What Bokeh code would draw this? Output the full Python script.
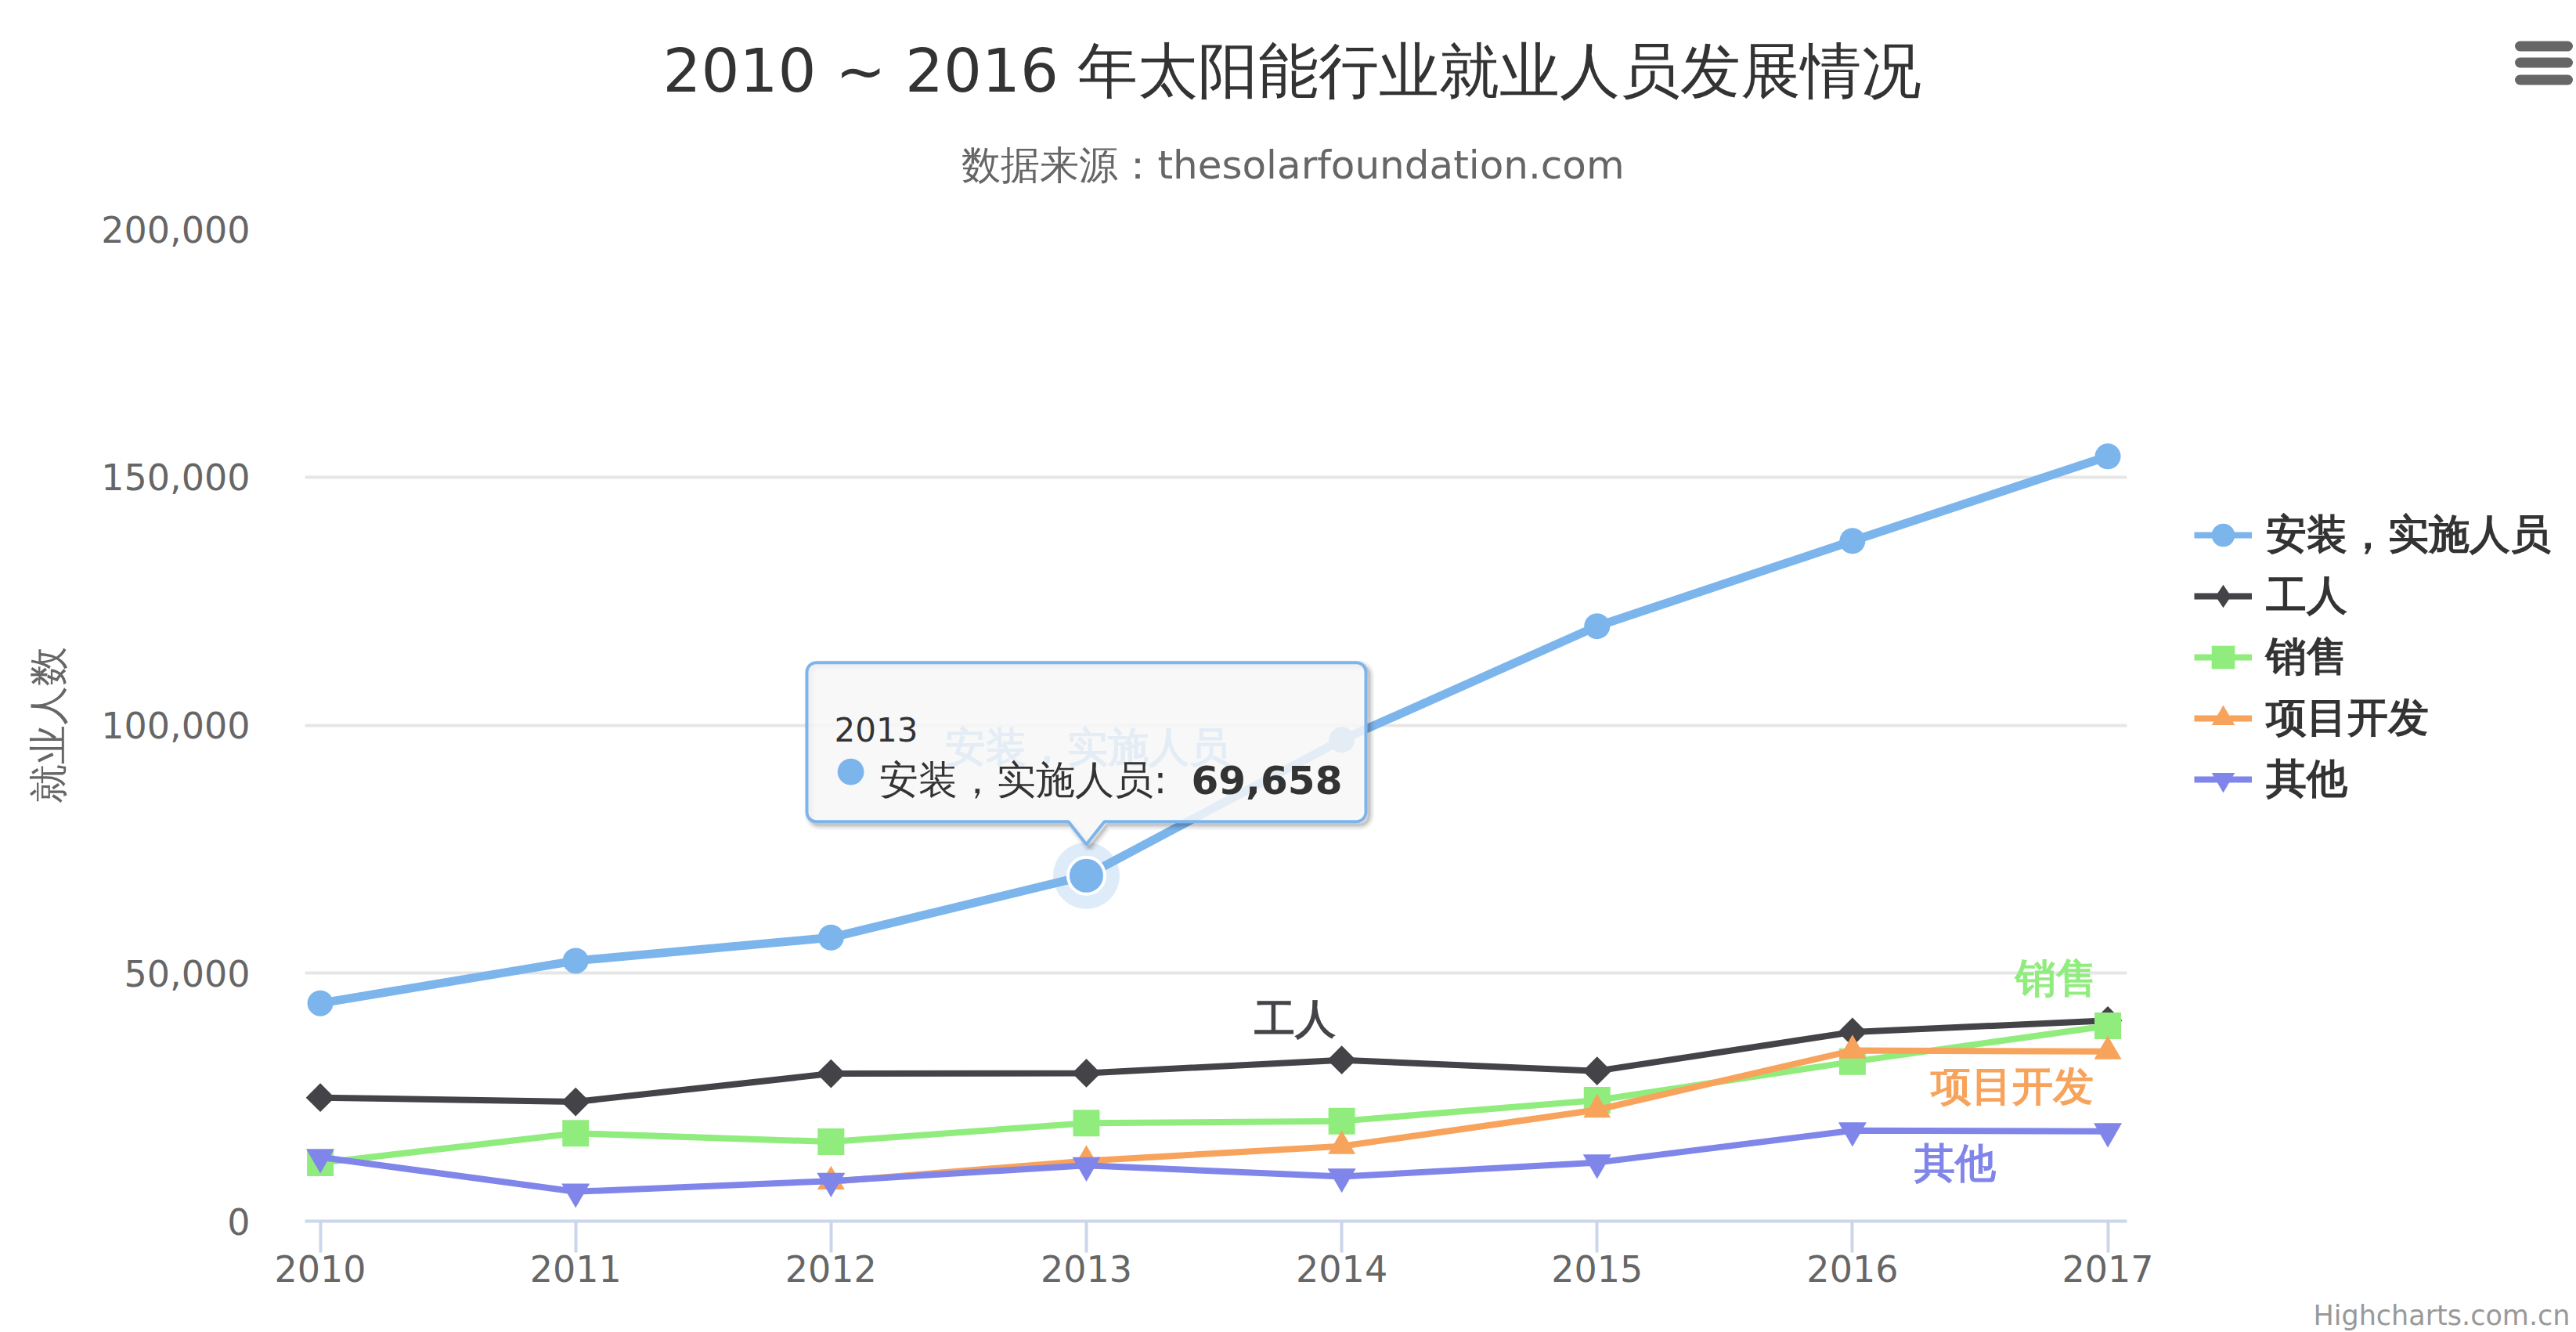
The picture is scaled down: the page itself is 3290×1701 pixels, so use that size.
import numpy as np
from bokeh.plotting import figure
from bokeh.layouts import column
from bokeh.models import (Range1d, FixedTicker, NumeralTickFormatter, Legend, LegendItem,
                          Label, PolyAnnotation, ColumnDataSource)
from bokeh.core.properties import value
from bokeh.embed import file_html
from bokeh.resources import INLINE

# ---------------- data ----------------
years = [2010, 2011, 2012, 2013, 2014, 2015, 2016, 2017]
installation = [43934, 52503, 57177, 69658, 97031, 119931, 137133, 154175]
manufacturing = [24916, 24064, 29742, 29851, 32490, 30282, 38121, 40434]
sales = [11744, 17722, 16005, 19771, 20185, 24377, 32147, 39387]
project_dev = [None, None, 7988, 12169, 15112, 22452, 34400, 34227]
other = [12908, 5948, 8105, 11248, 8989, 11816, 18274, 18111]
series_names = ["安装，实施人员", "工人", "销售", "项目开发", "其他"]
y_ticks = [0, 50000, 100000, 150000, 200000]
title_text = "2010 ~ 2016 年太阳能行业就业人员发展情况"
subtitle_text = "数据来源：thesolarfoundation.com"
y_title = "就业人数"
credit_text = "Highcharts.com.cn"
tooltip_year = years[3]
tooltip_value = installation[3]

# ---------------- styles ----------------
colors = ["#7cb5ec", "#434348", "#90ed7d", "#f7a35c", "#8085e9"]
markers = ["circle", "square", "square", "triangle", "inverted_triangle"]
legend_markers = ["circle", "diamond", "square", "triangle", "inverted_triangle"]
marker_angles = [0, np.pi / 4, 0, 0, 0]
marker_sizes = [33, 26, 34, 35, 36]
FONT = "DejaVu Sans"
W, H = 3290, 1701
HEAD_H = 250
FOOT_H = 44

# frame geometry (full-canvas px)
FL, FR, FT, FB = 389, 2716, 292, 1559
X0, X1 = 2009.94, 2017.075
Y0, Y1 = 0, 200000


def no_align(fig):
    try:
        fig.frame_align = False
    except Exception:
        pass


# ---------------- header (title, subtitle, menu icon) ----------------
head = figure(width=W, height=HEAD_H, x_range=Range1d(0, W), y_range=Range1d(HEAD_H, 0),
              output_backend="svg", toolbar_location=None, min_border=0,
              x_axis_location=None, y_axis_location=None)
no_align(head)
head.outline_line_color = None
head.grid.visible = False
head.add_layout(Label(x=1650, y=90, text=title_text, text_font=FONT, text_font_size="77px",
                      text_color="#333333", text_align="center", text_baseline="alphabetic"))
head.add_layout(Label(x=1651, y=210, text=subtitle_text, text_font=FONT, text_font_size="50px",
                      text_color="#666666", text_align="center", text_baseline="alphabetic"))
head.segment(x0=[3218] * 3, x1=[3279] * 3, y0=[58.5, 79.5, 101.5], y1=[58.5, 79.5, 101.5],
             line_color="#666666", line_width=13, line_cap="round")

# ---------------- main plot ----------------
p = figure(frame_width=FR - FL, frame_height=FB - FT,
           x_range=Range1d(X0, X1), y_range=Range1d(Y0, Y1),
           output_backend="svg", toolbar_location=None,
           min_border_left=FL, min_border_right=W - FR,
           min_border_top=FT - HEAD_H, min_border_bottom=H - FOOT_H - FB)
no_align(p)
p.outline_line_color = None
p.background_fill_color = "white"
p.border_fill_color = "white"

p.xgrid.visible = False
p.ygrid.grid_line_color = "#e6e6e6"
p.ygrid.grid_line_width = 4

p.yaxis.ticker = FixedTicker(ticks=y_ticks)
p.yaxis.formatter = NumeralTickFormatter(format="0,0")
p.yaxis.axis_line_color = None
p.yaxis.major_tick_line_color = None
p.yaxis.minor_tick_line_color = None
p.yaxis.major_tick_out = 0
p.yaxis.major_tick_in = 0
p.yaxis.major_label_standoff = 70
p.yaxis.major_label_text_font = FONT
p.yaxis.major_label_text_font_size = "46px"
p.yaxis.major_label_text_color = "#666666"
p.yaxis.axis_label = y_title
p.yaxis.axis_label_text_font = FONT
p.yaxis.axis_label_text_font_size = "50px"
p.yaxis.axis_label_text_font_style = "normal"
p.yaxis.axis_label_text_color = "#666666"
p.yaxis.axis_label_standoff = 35

p.xaxis.ticker = FixedTicker(ticks=years)
p.xaxis.axis_line_color = "#ccd6eb"
p.xaxis.axis_line_width = 4
p.xaxis.major_tick_line_color = "#ccd6eb"
p.xaxis.major_tick_line_width = 4
p.xaxis.major_tick_out = 40
p.xaxis.major_tick_in = 0
p.xaxis.minor_tick_line_color = None
p.xaxis.major_label_standoff = 3
p.xaxis.major_label_text_font = FONT
p.xaxis.major_label_text_font_size = "46px"
p.xaxis.major_label_text_color = "#666666"

# series
all_series = [installation, manufacturing, sales, project_dev, other]
items = []
for name, vals, col, mk, lmk, ang, ms in zip(series_names, all_series, colors, markers,
                                             legend_markers, marker_angles, marker_sizes):
    yv = [np.nan if v is None else v for v in vals]
    src = ColumnDataSource(dict(x=years, y=yv))
    lr = p.line("x", "y", source=src, line_color=col, line_width=8)
    if col == colors[0]:
        p.line("x", "y", source=src, line_color=col, line_width=11)
    sr = p.scatter("x", "y", source=src, marker=mk, angle=ang, size=ms,
                   fill_color=col, line_color=None)
    if lmk != mk:
        sr = p.scatter(x=[np.nan], y=[np.nan], marker=lmk, size=ms,
                       fill_color=col, line_color=None)
    items.append(LegendItem(label=name, renderers=[lr, sr]))

# hovered point (halo + enlarged marker)
hover_src = ColumnDataSource(dict(x=[tooltip_year], y=[tooltip_value]))
p.scatter("x", "y", source=hover_src, marker="circle", size=85,
          fill_color=colors[0], fill_alpha=0.25, line_color=None)
p.scatter("x", "y", source=hover_src, marker="circle", size=47,
          fill_color=colors[0], line_color="white", line_width=4)

# series labels (anchored on data points, offsets in px)
lab_src = ColumnDataSource(dict(
    x=[years[3], years[4], years[7], years[7], years[7]],
    y=[installation[3], manufacturing[4], sales[7], project_dev[7], other[7]],
    text=series_names, color=colors,
    dx=[2, -60, -66, -122, -195], dy=[-164, -53, -61, 44, 40]))
p.text("x", "y", text="text", source=lab_src, x_offset="dx", y_offset="dy",
       text_color="color", text_font=value(FONT), text_font_style="bold",
       text_font_size=value("52px"), text_align="center", text_baseline="middle")

# legend
legend = Legend(items=items, location=(86, 525), orientation="vertical",
                padding=0, margin=0, spacing=0, glyph_width=74, glyph_height=78,
                label_height=78, label_standoff=18,
                label_text_font=FONT, label_text_font_size="52px",
                label_text_font_style="bold", label_text_color="#333333",
                border_line_color=None, background_fill_alpha=0)
p.add_layout(legend, "right")


# tooltip (screen units relative to the frame's bottom-left corner)
def sx(cx):
    return cx - FL


def sy(cy):
    return FB - cy


ppx = FL + (tooltip_year - X0) / (X1 - X0) * (FR - FL)
ppy = FB - (tooltip_value - Y0) / (Y1 - Y0) * (FB - FT)


def tooltip_shape(left, right, top, bottom, r, tx, tw, tip):
    pts = []
    corners = [((left + r, top + r), 180, 270), ((right - r, top + r), 270, 360),
               ((right - r, bottom - r), 0, 90)]
    for (cx, cy), a0, a1 in corners:
        for a in np.linspace(np.radians(a0), np.radians(a1), 7):
            pts.append((cx + r * np.cos(a), cy + r * np.sin(a)))
    pts += [(tx + tw / 2, bottom), (tx, tip), (tx - tw / 2, bottom)]
    for a in np.linspace(np.radians(90), np.radians(180), 7):
        pts.append((left + r + r * np.cos(a), bottom - r + r * np.sin(a)))
    return [sx(q[0]) for q in pts], [sy(q[1]) for q in pts]


bl, br, bt, bb = ppx - 357, ppx + 357, ppy - 272, ppy - 69
for lw, alpha in [(14, 0.04), (9, 0.07), (4, 0.12)]:
    xs, ys = tooltip_shape(bl + 4, br + 4, bt + 4, bb + 4, 12, ppx + 4, 46, ppy - 36)
    p.add_layout(PolyAnnotation(xs=xs, ys=ys, xs_units="screen", ys_units="screen",
                                fill_alpha=0, line_color="black", line_alpha=alpha,
                                line_width=lw))
xs, ys = tooltip_shape(bl, br, bt, bb, 12, ppx, 46, ppy - 40)
p.add_layout(PolyAnnotation(xs=xs, ys=ys, xs_units="screen", ys_units="screen",
                            fill_color="#f7f7f7", fill_alpha=0.85,
                            line_color=colors[0], line_alpha=1.0, line_width=4))

p.add_layout(Label(x=sx(ppx - 322), y=sy(ppy - 187), x_units="screen", y_units="screen",
                   text=str(tooltip_year), text_font=FONT, text_font_size="42px",
                   text_color="#333333", text_align="left", text_baseline="alphabetic"))
p.add_layout(Label(x=sx(ppx - 301), y=sy(ppy - 137), x_units="screen", y_units="screen",
                   text="●", text_font=FONT, text_font_size="44px",
                   text_color=colors[0], text_align="center", text_baseline="middle"))
p.add_layout(Label(x=sx(ppx - 264), y=sy(ppy - 122), x_units="screen", y_units="screen",
                   text=series_names[0] + ": ", text_font=FONT, text_font_size="50px",
                   text_color="#333333", text_align="left", text_baseline="alphabetic"))
p.add_layout(Label(x=sx(ppx + 134), y=sy(ppy - 122), x_units="screen", y_units="screen",
                   text=f"{tooltip_value:,}", text_font=FONT, text_font_size="50px",
                   text_font_style="bold",
                   text_color="#333333", text_align="left", text_baseline="alphabetic"))

# ---------------- footer (credits) ----------------
foot = figure(width=W, height=FOOT_H, x_range=Range1d(0, W), y_range=Range1d(FOOT_H, 0),
              output_backend="svg", toolbar_location=None, min_border=0,
              x_axis_location=None, y_axis_location=None)
no_align(foot)
foot.outline_line_color = None
foot.grid.visible = False
foot.add_layout(Label(x=3282, y=FOOT_H / 2, text=credit_text, text_font=FONT,
                      text_font_size="35px", text_color="#999999",
                      text_align="right", text_baseline="middle"))

layout = column(head, p, foot, spacing=0)
open("out.html", "w").write(file_html(layout, INLINE))
